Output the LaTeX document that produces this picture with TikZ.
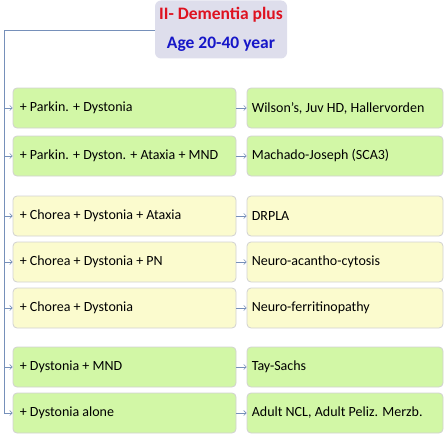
\documentclass[tikz,border=0pt]{standalone}
\usepackage{fontspec}
\setmainfont{Carlito}
\usetikzlibrary{arrows.meta}

\definecolor{boxgreen}{RGB}{210,247,166}
\definecolor{boxyellow}{RGB}{251,251,206}
\definecolor{titlefill}{RGB}{222,222,236}
\definecolor{titlered}{RGB}{222,18,32}
\definecolor{titleblue}{RGB}{22,22,200}
\definecolor{linkline}{RGB}{118,144,186}

\tikzset{
  box/.style={rectangle, rounded corners=4pt, draw=black!18, line width=0.8pt,
    minimum height=40pt, font=\fontsize{14}{16}\selectfont},
  lbox/.style={box, minimum width=223pt,
    label={[anchor=west, inner sep=0pt, xshift=7pt, font=\fontsize{14}{16}\selectfont]west:#1}},
  rbox/.style={box, minimum width=196pt,
    label={[anchor=west, inner sep=0pt, xshift=5pt, font=\fontsize{14}{16}\selectfont]west:#1}},
  greenbox/.style={fill=boxgreen},
  yellowbox/.style={fill=boxyellow},
  link/.style={draw=linkline, line width=0.6pt},
  linkarrow/.style={link, -{Straight Barb[length=2.5pt,width=5pt]}}
}

\begin{document}
\begin{tikzpicture}[x=1pt,y=1pt]
\useasboundingbox (0,0) rectangle (444,-444);

% title
\node[rectangle, rounded corners=6pt, fill=titlefill, minimum width=132pt, minimum height=58pt,
  align=center, font=\bfseries\fontsize{17.5}{29}\selectfont] (title) at (221,-29.5)
  {\textcolor{titlered}{II- Dementia plus}\\ \textcolor{titleblue}{Age 20-40 year}};

%-------------------------------------
\node[lbox={+ Parkin. + Dystonia}, greenbox] (parkdyst) at (124.5,-108) {};
\node[rbox={Wilson’s, Juv HD, Hallervorden}, greenbox] (wilson) at (345,-108) {};

\node[lbox={+ Parkin. + Dyston. + Ataxia + MND}, greenbox] (parkmnd) at (124.5,-156) {};
\node[rbox={Machado-Joseph (SCA3)}, greenbox] (machado) at (345,-156) {};

\node[lbox={+ Chorea + Dystonia + Ataxia}, yellowbox] (chorataxia) at (124.5,-216) {};
\node[rbox={DRPLA}, yellowbox] (drpla) at (345,-216) {};

\node[lbox={+ Chorea + Dystonia + PN}, yellowbox] (chorpn) at (124.5,-262) {};
\node[rbox={Neuro-acantho-cytosis}, yellowbox] (acantho) at (345,-262) {};

\node[lbox={+ Chorea + Dystonia}, yellowbox] (chordyst) at (124.5,-308) {};
\node[rbox={Neuro-ferritinopathy}, yellowbox] (ferritin) at (345,-308) {};

\node[lbox={+ Dystonia + MND}, greenbox] (dystmnd) at (124.5,-367) {};
\node[rbox={Tay-Sachs}, greenbox] (taysachs) at (345,-367) {};

\node[lbox={+ Dystonia alone}, greenbox] (dystalone) at (124.5,-413) {};
\node[rbox={Adult NCL, Adult Peliz. Merzb.}, greenbox] (ncl) at (345,-413) {};

%-------------------------------------
\coordinate (trunk) at (4,-30);

\draw[linkarrow] (title.west |- trunk) -- (trunk) |- (dystalone.west);
\draw[linkarrow] (parkdyst.west -| trunk) -- (parkdyst.west);
\draw[linkarrow] (parkmnd.west -| trunk) -- (parkmnd.west);
\draw[linkarrow] (chorataxia.west -| trunk) -- (chorataxia.west);
\draw[linkarrow] (chorpn.west -| trunk) -- (chorpn.west);
\draw[linkarrow] (chordyst.west -| trunk) -- (chordyst.west);
\draw[linkarrow] (dystmnd.west -| trunk) -- (dystmnd.west);

\draw[linkarrow] (parkdyst) -- (wilson);
\draw[linkarrow] (parkmnd) -- (machado);
\draw[linkarrow] (chorataxia) -- (drpla);
\draw[linkarrow] (chorpn) -- (acantho);
\draw[linkarrow] (chordyst) -- (ferritin);
\draw[linkarrow] (dystmnd) -- (taysachs);
\draw[linkarrow] (dystalone) -- (ncl);
\end{tikzpicture}
\end{document}
